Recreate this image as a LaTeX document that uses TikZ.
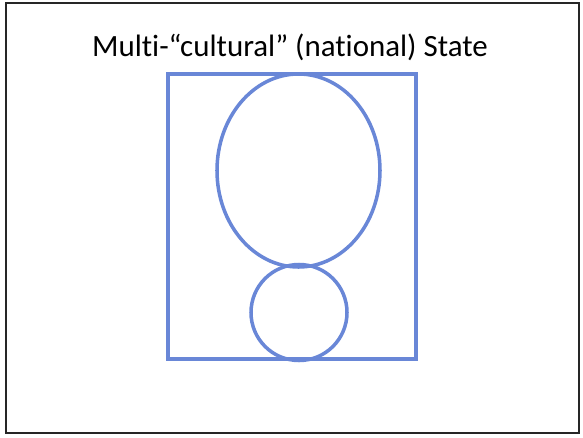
\documentclass[tikz,border=0pt]{standalone}
\usepackage{fontspec}
\setmainfont[Ligatures=NoCommon]{Carlito}
\usetikzlibrary{positioning}
\definecolor{stateblue}{RGB}{105,135,215}

\begin{document}
\begin{tikzpicture}[x=0.03cm, y=-0.03cm,
    frame/.style={draw=black!85, line width=1.6pt},
    outline/.style={draw=stateblue, line width=3pt}]
  \useasboundingbox (0,0) rectangle (583,437);
  \draw[frame] (6,3) rectangle (579,433);
  \node[font=\fontsize{26.4}{30}\selectfont, anchor=base] (title) at (290,56) {Multi-“cultural” (national) State};
  % state and its two nations
  \draw[outline] (168,74) rectangle (416,359);
  \draw[outline] (298.5,170.5) ellipse [x radius=81.5, y radius=96.5];
  \draw[outline] (299,312.5) circle [radius=48];
\end{tikzpicture}
\end{document}
